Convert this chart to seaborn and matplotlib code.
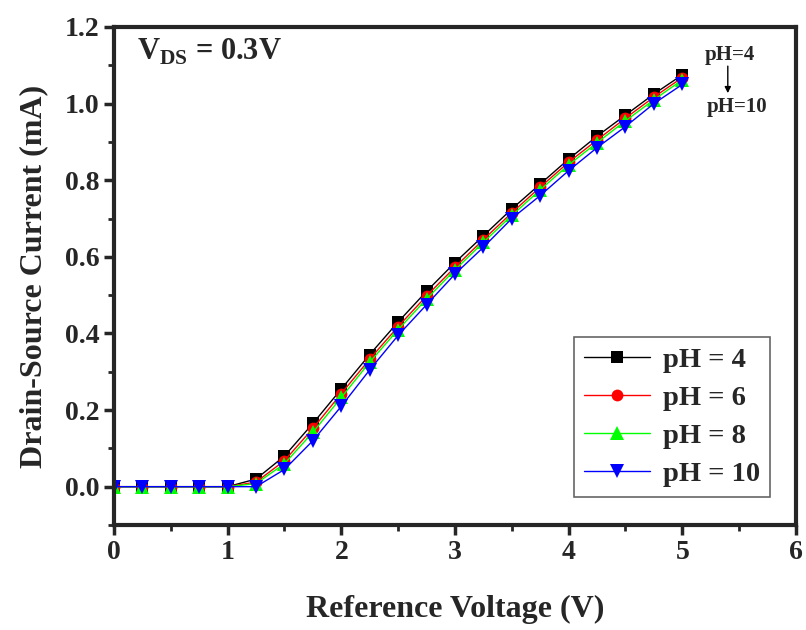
import numpy as np
import pandas as pd
import matplotlib
matplotlib.use("Agg")
import matplotlib.pyplot as plt
from matplotlib.ticker import MultipleLocator
import seaborn as sns

# Datos
voltaje = [0, 0.25, 0.5, 0.75, 1.0, 1.25, 1.5, 1.75, 2.0, 2.25, 2.5,
           2.75, 3.0, 3.25, 3.5, 3.75, 4.0, 4.25, 4.5, 4.75, 5.0]
ph4 = [0, 0, 0, 0, 0, 0.02, 0.08, 0.165, 0.255, 0.345, 0.43,
       0.51, 0.585, 0.655, 0.725, 0.79, 0.855, 0.915, 0.97, 1.025, 1.075]
ph6 = [0, 0, 0, 0, 0, 0.012, 0.068, 0.152, 0.243, 0.333, 0.418,
       0.498, 0.573, 0.645, 0.715, 0.782, 0.847, 0.905, 0.962, 1.017, 1.068]
ph8 = [0, 0, 0, 0, 0, 0.008, 0.06, 0.142, 0.233, 0.325, 0.41,
       0.49, 0.566, 0.638, 0.708, 0.775, 0.84, 0.898, 0.955, 1.01, 1.062]
ph10 = [0, 0, 0, 0, 0, 0.0, 0.045, 0.12, 0.21, 0.305, 0.395,
        0.475, 0.555, 0.625, 0.70, 0.76, 0.825, 0.885, 0.94, 1.0, 1.05]
etiquetas = ["pH = 4", "pH = 6", "pH = 8", "pH = 10"]
colores = ["black", "red", "lime", "blue"]
marcadores = ["s", "o", "^", "v"]
tamanos = [8.5, 8.5, 10.5, 10.5]

sns.set_theme(style="ticks")
plt.rcParams["font.family"] = ["Liberation Serif", "DejaVu Serif"]
plt.rcParams["font.weight"] = "bold"
plt.rcParams["mathtext.fontset"] = "custom"
plt.rcParams["mathtext.rm"] = "Liberation Serif:bold"
plt.rcParams["mathtext.bf"] = "Liberation Serif:bold"

df = pd.DataFrame({
    "Voltaje": voltaje * 4,
    "Corriente": ph4 + ph6 + ph8 + ph10,
    "pH": sum([[e] * len(voltaje) for e in etiquetas], []),
})

fig = plt.figure(figsize=(8.06, 6.30), dpi=100)
ax = fig.add_axes([0.1414, 0.1667, 0.8462, 0.7905])

for etiqueta, color, marca, tam in zip(etiquetas, colores, marcadores, tamanos):
    sub = df[df["pH"] == etiqueta]
    sns.lineplot(data=sub, x="Voltaje", y="Corriente", ax=ax, color=color,
                 marker=marca, markersize=tam, markeredgewidth=0,
                 linewidth=1.0, label=etiqueta)

ax.set_xlim(0, 6)
ax.set_ylim(-0.1, 1.2)
ax.xaxis.set_major_locator(MultipleLocator(1))
ax.xaxis.set_minor_locator(MultipleLocator(0.5))
ax.yaxis.set_major_locator(MultipleLocator(0.2))
ax.yaxis.set_minor_locator(MultipleLocator(0.1))
ax.yaxis.set_major_formatter(matplotlib.ticker.FormatStrFormatter("%.1f"))
ax.tick_params(which="major", direction="out", length=7, width=2.5, labelsize=20)
ax.tick_params(which="minor", direction="out", length=4, width=2)
for s in ax.spines.values():
    s.set_linewidth(3)
    s.set_visible(True)

ax.set_xlabel("Reference Voltage (V)", fontsize=23, fontweight="bold", labelpad=22)
ax.set_ylabel("Drain-Source Current (mA)", fontsize=23, fontweight="bold", labelpad=12)

ax.text(0.2, 1.135, r"V$_{\mathregular{DS}}$ = 0.3V", fontsize=22, fontweight="bold",
        va="center", ha="left")

# Anotación pH=4 -> pH=10
ax.text(5.42, 1.128, "pH=4", fontsize=15, fontweight="bold", ha="center", va="center")
ax.text(5.48, 0.99, "pH=10", fontsize=15, fontweight="bold", ha="center", va="center")
ax.annotate("", xy=(5.40, 1.02), xytext=(5.40, 1.105),
            arrowprops=dict(arrowstyle="-|>", color="black", lw=1, mutation_scale=9))

leg = ax.legend(loc="lower right", bbox_to_anchor=(0.97, 0.045), fontsize=20.5,
                frameon=True, fancybox=False, edgecolor="#404040",
                handlelength=2.3, handletextpad=0.45, borderpad=0.35,
                labelspacing=0.42, borderaxespad=0.2)
leg.get_frame().set_linewidth(1.2)

plt.savefig("out.png", dpi=100)
